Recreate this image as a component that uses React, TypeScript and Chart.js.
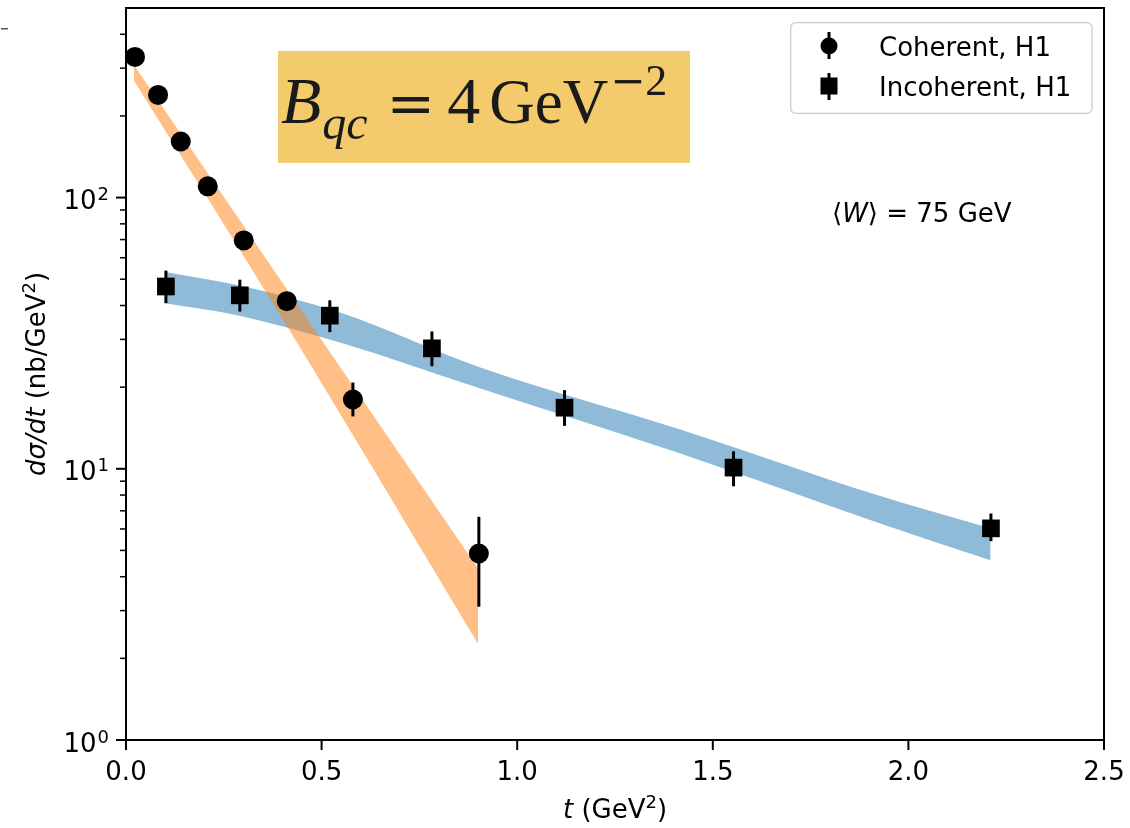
import React, { useEffect, useRef } from "react";
import { Chart, registerables } from "chart.js";

Chart.register(...registerables);

// ---- data ----
const coherentT = [0.023, 0.082, 0.14, 0.209, 0.301, 0.411, 0.58, 0.902];
const coherentY = [330, 239, 161, 110, 69.5, 41.5, 18.0, 4.87];
const coherentLo = [317, 229, 154, 105.5, 66.5, 39.6, 15.6, 3.1];
const coherentHi = [343, 249, 168, 114.5, 72.5, 43.4, 20.8, 6.65];

const incoherentT = [0.102, 0.291, 0.521, 0.782, 1.121, 1.553, 2.211];
const incoherentY = [47.0, 43.6, 36.7, 27.8, 16.8, 10.1, 6.03];
const incoherentLo = [40.8, 38.0, 31.9, 23.9, 14.4, 8.62, 5.41];
const incoherentHi = [53.8, 49.8, 41.8, 32.1, 19.5, 11.6, 6.84];

const qcBandT = [0.02, 0.41, 0.9];
const qcBandUpper = [309, 46.2, 4.29];
const qcBandLower = [270, 33.8, 2.26];

const incBandT = [0.1, 0.29, 0.547, 0.904, 1.415, 1.926, 2.21];
const incBandUpper = [53.2, 47.4, 37.7, 23.7, 14.0, 7.95, 6.04];
const incBandLower = [40.8, 36.7, 29.2, 19.8, 11.4, 6.3, 4.6];

const xTicks = [0, 0.5, 1, 1.5, 2, 2.5];
const xTickLabels = ["0.0", "0.5", "1.0", "1.5", "2.0", "2.5"];
const yMajorTicks = [1, 10, 100];
const yMajorExp = ["0", "1", "2"];
const yMinorTicks = [2, 3, 4, 5, 6, 7, 8, 9, 20, 30, 40, 50, 60, 70, 80, 90, 200, 300, 400];

const legendLabels = ["Coherent, H1", "Incoherent, H1"];
const annotationText = "75 GeV";
const bqcValue = "4";

const SANS = "DejaVu Sans";
const SERIF = "Liberation Serif";
const MATH = "DejaVu Serif";

type Seg = { t: string; font: string; dy?: number; gap?: number };

function drawSegs(ctx: CanvasRenderingContext2D, segs: Seg[], x: number, y: number, align: "left" | "center" | "right") {
  const widths = segs.map((s) => {
    ctx.font = s.font;
    return ctx.measureText(s.t).width;
  });
  const total = widths.reduce((a, w, i) => a + w + (segs[i].gap || 0), 0);
  let cx = align === "left" ? x : align === "center" ? x - total / 2 : x - total;
  ctx.textAlign = "left";
  ctx.textBaseline = "alphabetic";
  segs.forEach((s, i) => {
    cx += s.gap || 0;
    ctx.font = s.font;
    ctx.fillText(s.t, cx, y + (s.dy || 0));
    cx += widths[i];
  });
}

const decorPlugin = {
  id: "decor",
  afterDatasetsDraw(chart: any) {
    const ctx: CanvasRenderingContext2D = chart.ctx;
    const xs = chart.scales.x;
    const ys = chart.scales.y;
    ctx.save();
    ctx.strokeStyle = "#000";
    ctx.lineWidth = 3;
    const bars = (T: number[], lo: number[], hi: number[]) => {
      T.forEach((t, i) => {
        const px = xs.getPixelForValue(t);
        ctx.beginPath();
        ctx.moveTo(px, ys.getPixelForValue(lo[i]));
        ctx.lineTo(px, ys.getPixelForValue(hi[i]));
        ctx.stroke();
      });
    };
    bars(coherentT, coherentLo, coherentHi);
    bars(incoherentT, incoherentLo, incoherentHi);
    ctx.restore();
  },
  afterDraw(chart: any) {
    const ctx: CanvasRenderingContext2D = chart.ctx;
    const xs = chart.scales.x;
    const ys = chart.scales.y;
    const a = chart.chartArea;
    ctx.save();
    ctx.fillStyle = "#000";
    ctx.strokeStyle = "#000";

    // frame
    ctx.lineWidth = 2;
    ctx.strokeRect(a.left, a.top, a.right - a.left, a.bottom - a.top);

    // x ticks
    ctx.lineWidth = 2;
    xTicks.forEach((v, i) => {
      const px = xs.getPixelForValue(v);
      ctx.beginPath();
      ctx.moveTo(px, a.bottom);
      ctx.lineTo(px, a.bottom + 10);
      ctx.stroke();
      ctx.font = `26px ${SANS}`;
      ctx.textAlign = "center";
      ctx.textBaseline = "alphabetic";
      ctx.fillText(xTickLabels[i], px, a.bottom + 40);
    });
    // y major ticks
    yMajorTicks.forEach((v, i) => {
      const py = ys.getPixelForValue(v);
      ctx.lineWidth = 2;
      ctx.beginPath();
      ctx.moveTo(a.left - 10, py);
      ctx.lineTo(a.left, py);
      ctx.stroke();
      drawSegs(
        ctx,
        [
          { t: "10", font: `26px ${SANS}` },
          { t: yMajorExp[i], font: `18px ${SANS}`, dy: -9, gap: 1 },
        ],
        a.left - 17,
        py + 11.5,
        "right"
      );
    });
    // y minor ticks
    ctx.lineWidth = 1.5;
    yMinorTicks.forEach((v) => {
      const py = ys.getPixelForValue(v);
      if (py < a.top) return;
      ctx.beginPath();
      ctx.moveTo(a.left - 6, py);
      ctx.lineTo(a.left, py);
      ctx.stroke();
    });

    // axis titles
    drawSegs(
      ctx,
      [
        { t: "t", font: `italic 26px ${SANS}` },
        { t: " (GeV", font: `26px ${SANS}` },
        { t: "2", font: `18px ${SANS}`, dy: -10 },
        { t: ")", font: `26px ${SANS}` },
      ],
      (a.left + a.right) / 2,
      a.bottom + 78,
      "center"
    );
    ctx.save();
    ctx.translate(45, (a.top + a.bottom) / 2);
    ctx.rotate(-Math.PI / 2);
    drawSegs(
      ctx,
      [
        { t: "d\u03c3/dt", font: `italic 26px ${SANS}` },
        { t: " (nb/GeV", font: `26px ${SANS}` },
        { t: "2", font: `18px ${SANS}`, dy: -10 },
        { t: ")", font: `26px ${SANS}` },
      ],
      0,
      0,
      "center"
    );
    ctx.restore();

    // legend
    const lx = 790.7, ly = 22.7, lw = 301.3, lh = 90.6;
    ctx.beginPath();
    (ctx as any).roundRect(lx, ly, lw, lh, 5);
    ctx.fillStyle = "rgba(255,255,255,0.8)";
    ctx.fill();
    ctx.strokeStyle = "#cccccc";
    ctx.lineWidth = 1.3;
    ctx.stroke();
    ctx.fillStyle = "#000";
    ctx.strokeStyle = "#000";
    ctx.lineWidth = 3;
    const mx = 829;
    ctx.beginPath();
    ctx.moveTo(mx, 32);
    ctx.lineTo(mx, 59);
    ctx.stroke();
    ctx.beginPath();
    ctx.arc(mx, 46, 8.5, 0, Math.PI * 2);
    ctx.fill();
    ctx.beginPath();
    ctx.moveTo(mx, 73);
    ctx.lineTo(mx, 100);
    ctx.stroke();
    ctx.fillRect(mx - 8.5, 77.5, 17, 17);
    ctx.font = `26px ${SANS}`;
    ctx.textAlign = "left";
    ctx.textBaseline = "alphabetic";
    ctx.fillText(legendLabels[0], 879, 55.5);
    ctx.fillText(legendLabels[1], 879, 95.5);

    // <W> annotation
    drawSegs(
      ctx,
      [
        { t: "\u27e8", font: `26px ${SANS}` },
        { t: "W", font: `italic 26px ${SANS}` },
        { t: "\u27e9 = " + annotationText, font: `26px ${SANS}` },
      ],
      832,
      222,
      "left"
    );

    // B_qc box
    ctx.fillStyle = "#F3CB6C";
    ctx.fillRect(278, 51, 412, 112);
    ctx.fillStyle = "#1a1a1a";
    drawSegs(
      ctx,
      [
        { t: "B", font: `italic 66px ${SERIF}` },
        { t: "qc", font: `italic 48px ${SERIF}`, dy: 16, gap: 1 },
        { t: "=", font: `58px ${MATH}`, gap: 19 },
        { t: bqcValue, font: `66px ${SERIF}`, gap: 12 },
        { t: "GeV", font: `63px ${SERIF}`, gap: 9 },
        { t: "\u2212", font: `42px ${MATH}`, dy: -28, gap: 2 },
        { t: "2", font: `44px ${SERIF}`, dy: -28, gap: 0 },
      ],
      281,
      123,
      "left"
    );

    // small stray dash at top-left of the reference
    ctx.fillStyle = "#555";
    ctx.fillRect(1, 28, 7, 1.5);
    ctx.restore();
  },
};

export default function App() {
  const ref = useRef<HTMLCanvasElement | null>(null);
  useEffect(() => {
    const canvas = ref.current;
    if (!canvas) return;
    const pts = (T: number[], Y: number[]) => T.map((t, i) => ({ x: t, y: Y[i] }));
    const bandLine = (label: string, T: number[], Y: number[], order: number, fill: any, bg?: string) =>
      ({
        type: "line",
        label,
        data: pts(T, Y),
        borderColor: "rgba(0,0,0,0)",
        borderWidth: 0,
        pointRadius: 0,
        cubicInterpolationMode: "monotone",
        fill,
        backgroundColor: bg || "rgba(0,0,0,0)",
        order,
      } as any);
    const chart = new Chart(canvas, {
      type: "scatter",
      data: {
        datasets: [
          {
            label: legendLabels[0],
            data: pts(coherentT, coherentY),
            pointStyle: "circle",
            pointRadius: 10,
            pointHoverRadius: 10,
            backgroundColor: "#000",
            borderColor: "#000",
            borderWidth: 0,
            order: 0,
            clip: false,
          } as any,
          {
            label: legendLabels[1],
            data: pts(incoherentT, incoherentY),
            pointStyle: "rect",
            pointRadius: 12.5,
            pointHoverRadius: 12.5,
            backgroundColor: "#000",
            borderColor: "#000",
            borderWidth: 0,
            order: 0,
            clip: false,
          } as any,
          bandLine("qc upper", qcBandT, qcBandUpper, 1, false),
          bandLine("qc lower", qcBandT, qcBandLower, 1, 2, "rgba(255,127,14,0.5)"),
          bandLine("inc upper", incBandT, incBandUpper, 2, false),
          bandLine("inc lower", incBandT, incBandLower, 2, 4, "rgba(31,119,180,0.5)"),
        ],
      },
      options: {
        animation: false,
        responsive: false,
        devicePixelRatio: 1,
        layout: { autoPadding: false, padding: { top: 8, right: 26, left: 0, bottom: 0 } },
        plugins: { legend: { display: false }, tooltip: { enabled: false } },
        events: [],
        scales: {
          x: {
            type: "linear",
            min: 0,
            max: 2.5,
            ticks: { display: false },
            grid: { display: false },
            border: { display: false },
            afterFit: (s: any) => {
              s.height = 88;
            },
          },
          y: {
            type: "logarithmic",
            min: 1,
            max: 500,
            ticks: { display: false },
            grid: { display: false },
            border: { display: false },
            afterFit: (s: any) => {
              s.width = 126;
            },
          },
        },
      } as any,
      plugins: [decorPlugin],
    });
    return () => chart.destroy();
  }, []);
  return (
    <div style={{ position: "fixed", left: 0, top: 0, width: 1130, height: 828, background: "#fff" }}>
      <canvas ref={ref} width={1130} height={828} style={{ display: "block", width: 1130, height: 828 }} />
    </div>
  );
}
